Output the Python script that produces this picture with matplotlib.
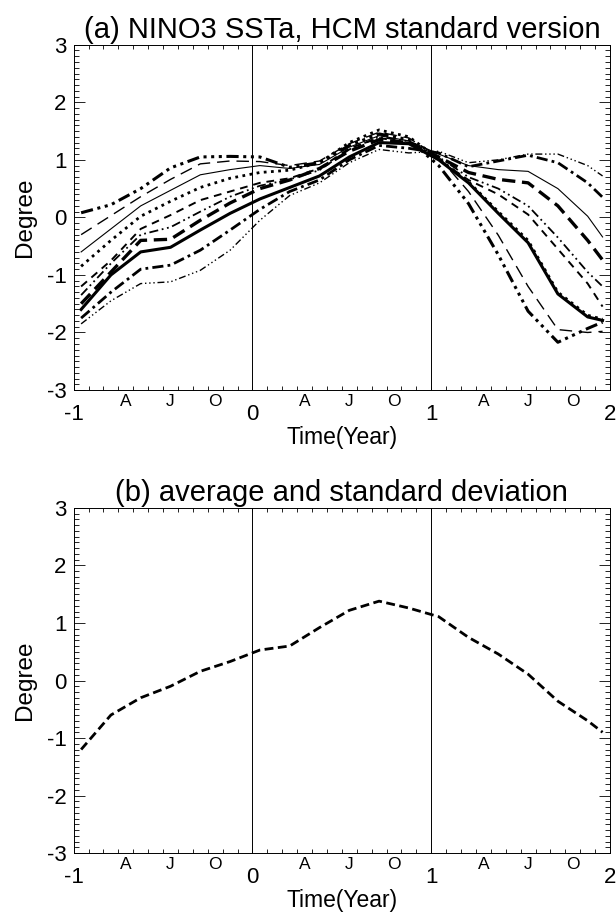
import numpy as np
import matplotlib.pyplot as plt
from matplotlib.ticker import MultipleLocator
import matplotlib.transforms as mtransforms

plt.rcParams['font.family'] = ['Liberation Sans', 'DejaVu Sans']

# sample months (every 2 months, mid-month) from Jan of year -1
meses = [0, 2, 4, 6, 8, 10, 12, 14, 16, 18, 20, 22, 24, 26, 28, 30, 32, 34, 35]
tiempo = [-1 + (m + 0.5) / 12 for m in meses]

# ensemble members (a)
mA = [0.08, 0.22, 0.50, 0.86, 1.05, 1.06, 1.05, 0.87, 0.95, 1.25, 1.45, 1.35, 0.90, 0.24, -0.65, -1.63, -2.17, -1.93, -1.82]
mB = [-0.30, 0.03, 0.36, 0.66, 0.93, 0.98, 0.97, 0.90, 0.98, 1.28, 1.48, 1.38, 1.05, 0.45, -0.31, -1.20, -1.95, -2.00, -1.98]
mC = [-0.60, -0.20, 0.20, 0.47, 0.74, 0.83, 0.90, 0.85, 0.92, 1.22, 1.42, 1.33, 1.10, 0.90, 0.83, 0.80, 0.50, 0.02, -0.34]
mD = [-0.85, -0.40, 0.02, 0.28, 0.52, 0.68, 0.78, 0.82, 0.95, 1.30, 1.52, 1.40, 1.02, 0.62, 0.10, -0.40, -1.30, -1.70, -1.77]
mE = [-1.20, -0.75, -0.20, 0.04, 0.30, 0.45, 0.60, 0.68, 0.85, 1.20, 1.38, 1.30, 1.00, 0.65, 0.40, 0.05, -0.55, -1.15, -1.55]
mF = [-1.35, -0.80, -0.30, -0.17, 0.10, 0.36, 0.55, 0.66, 0.82, 1.18, 1.40, 1.32, 1.05, 0.70, 0.50, 0.20, -0.35, -0.95, -1.20]
mG = [-1.60, -1.00, -0.60, -0.52, -0.22, 0.07, 0.32, 0.52, 0.72, 1.05, 1.30, 1.28, 1.00, 0.60, 0.07, -0.44, -1.33, -1.73, -1.79]
mH = [-1.75, -1.30, -0.90, -0.83, -0.57, -0.22, 0.14, 0.45, 0.65, 1.00, 1.25, 1.20, 1.12, 0.88, 0.98, 1.08, 0.95, 0.60, 0.35]
mI = [-1.85, -1.45, -1.15, -1.12, -0.92, -0.57, -0.05, 0.38, 0.60, 0.95, 1.18, 1.12, 1.15, 0.95, 1.00, 1.10, 1.10, 0.90, 0.72]
mJ = [-1.50, -0.95, -0.40, -0.38, -0.05, 0.25, 0.50, 0.65, 0.85, 1.15, 1.35, 1.30, 1.05, 0.78, 0.66, 0.60, 0.20, -0.40, -0.74]

# average (b)
promedio = [-1.20, -0.60, -0.30, -0.10, 0.16, 0.33, 0.53, 0.60, 0.92, 1.22, 1.38, 1.26, 1.11, 0.75, 0.46, 0.11, -0.36, -0.70, -0.90]

miembros = [mA, mB, mC, mD, mE, mF, mG, mH, mI, mJ]
estilos = [
    ((0, (4, 1.5, 1, 1.5, 1, 1.5, 1, 1.5)), 2.2),
    ((0, (9, 5)), 1.0),
    ('-', 0.8),
    ((0, (1, 1.6)), 2.0),
    ((0, (4, 3)), 1.4),
    ((0, (5, 2, 1, 2, 1, 2)), 1.3),
    ('-', 2.2),
    ((0, (4, 1.5, 1, 1.5)), 2.0),
    ((0, (5, 2, 1, 2, 1, 2, 1, 2)), 1.0),
    ((0, (4, 2)), 2.4),
]

anios = [-1, 0, 1, 2]
etiq_meses = ['A', 'J', 'O']
pos_meses = [3.5 / 12, 6.5 / 12, 9.5 / 12]


def formato(ax, titulo):
    ax.set_xlim(-1, 2)
    ax.set_ylim(-3, 3)
    ax.set_xticks(anios)
    ax.set_xticklabels([str(a) for a in anios])
    ax.xaxis.set_minor_locator(MultipleLocator(1 / 12))
    ax.set_yticks([-3, -2, -1, 0, 1, 2, 3])
    ax.set_yticklabels(['-3', '-2', '-1', '0', '1', '2', '3'])
    ax.yaxis.set_minor_locator(MultipleLocator(0.1))
    ax.tick_params(axis='both', which='both', direction='in', top=True, right=True,
                   width=0.6, color='black')
    ax.tick_params(axis='y', which='major', length=8, labelsize=16, pad=5)
    ax.tick_params(axis='y', which='minor', length=3.5)
    ax.tick_params(axis='x', which='major', length=3, labelsize=16, pad=10)
    ax.tick_params(axis='x', which='minor', length=3)
    for s in ax.spines.values():
        s.set_linewidth(0.7)
    trans = mtransforms.blended_transform_factory(ax.transData, ax.transAxes)
    for a in anios[:-1]:
        for p, e in zip(pos_meses, etiq_meses):
            ax.text(a + p, -0.012, e, transform=trans, ha='center', va='top', fontsize=12.5)
    ax.axvline(0, color='black', lw=0.7)
    ax.axvline(1, color='black', lw=0.7)
    ax.set_xlabel('Time(Year)', fontsize=16.5, labelpad=1)
    ax.set_ylabel('Degree', fontsize=17.5, labelpad=8)
    ax.set_title(titulo, fontsize=21, pad=5)


fig = plt.figure(figsize=(6.16, 9.13), dpi=100)
ax1 = fig.add_axes([0.1196, 0.5728, 0.8707, 0.3782])
ax2 = fig.add_axes([0.1196, 0.0657, 0.8707, 0.3779])

for datos, (ls, lw) in zip(miembros, estilos):
    ax1.plot(tiempo, datos, color='black', linestyle=ls, linewidth=lw)
formato(ax1, '(a) NINO3 SSTa, HCM standard version')

ax2.plot(tiempo, promedio, color='black', linestyle=(0, (3.2, 1.6)), linewidth=2.0)
formato(ax2, '(b) average and standard deviation')

fig.savefig('out.png', dpi=100)
